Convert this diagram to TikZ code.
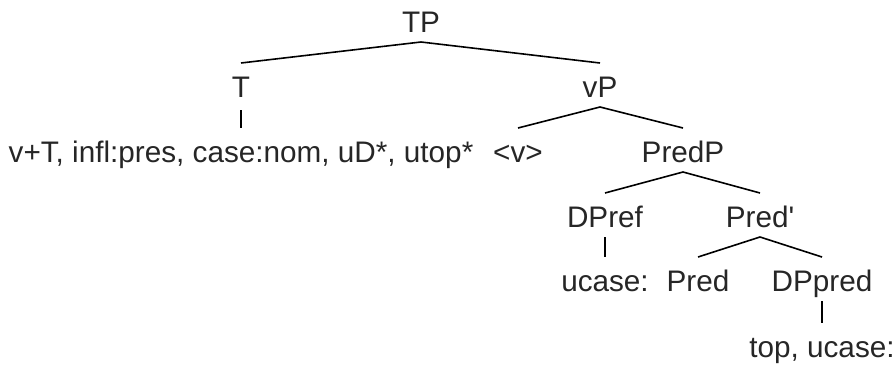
\documentclass[tikz,border=0pt]{standalone}
\usepackage{fontspec}
\newfontfamily\arialf{Liberation Sans}
\begin{document}
\begin{tikzpicture}[x=1pt,y=-1pt,
  lbl/.style={anchor=base, inner sep=0pt, outer sep=0pt, text height=34pt, text depth=10pt,
    font=\arialf\fontsize{29.7}{36}\selectfont, text=black!85},
  edge/.style={line width=1.6pt, black}]
\useasboundingbox (0,0) rectangle (896,364);
\node[lbl] (TP) at (421,32) {TP};
\node[lbl] (T) at (241,97) {T};
\node[lbl] (vP) at (600,97) {vP};
\node[lbl] (Tleaf) at (241,162) {v+T, infl:pres, case:nom, uD*, utop*};
\node[lbl] (v) at (518,162) {<v>};
\node[lbl] (PredP) at (683,162) {PredP};
\node[lbl] (DPref) at (605,227) {DPref};
\node[lbl] (Predbar) at (760,227) {Pred'};
\node[lbl] (ucase) at (605,291) {ucase:};
\node[lbl] (Pred) at (698,291) {Pred};
\node[lbl] (DPpred) at (822,291) {DPpred};
\node[lbl] (top) at (822,357) {top, ucase:};
\draw[edge] (TP.south) -- (T.north);
\draw[edge] (TP.south) -- (vP.north);
\draw[edge, shorten <=3pt] (T.south) -- (Tleaf.north);
\draw[edge] (vP.south) -- (v.north);
\draw[edge] (vP.south) -- (PredP.north);
\draw[edge] (PredP.south) -- (DPref.north);
\draw[edge] (PredP.south) -- (Predbar.north);
\draw[edge] (DPref.south) -- (ucase.north);
\draw[edge] (Predbar.south) -- (Pred.north);
\draw[edge] (Predbar.south) -- (DPpred.north);
\draw[edge] (DPpred.south) -- (top.north);
\end{tikzpicture}
\end{document}
